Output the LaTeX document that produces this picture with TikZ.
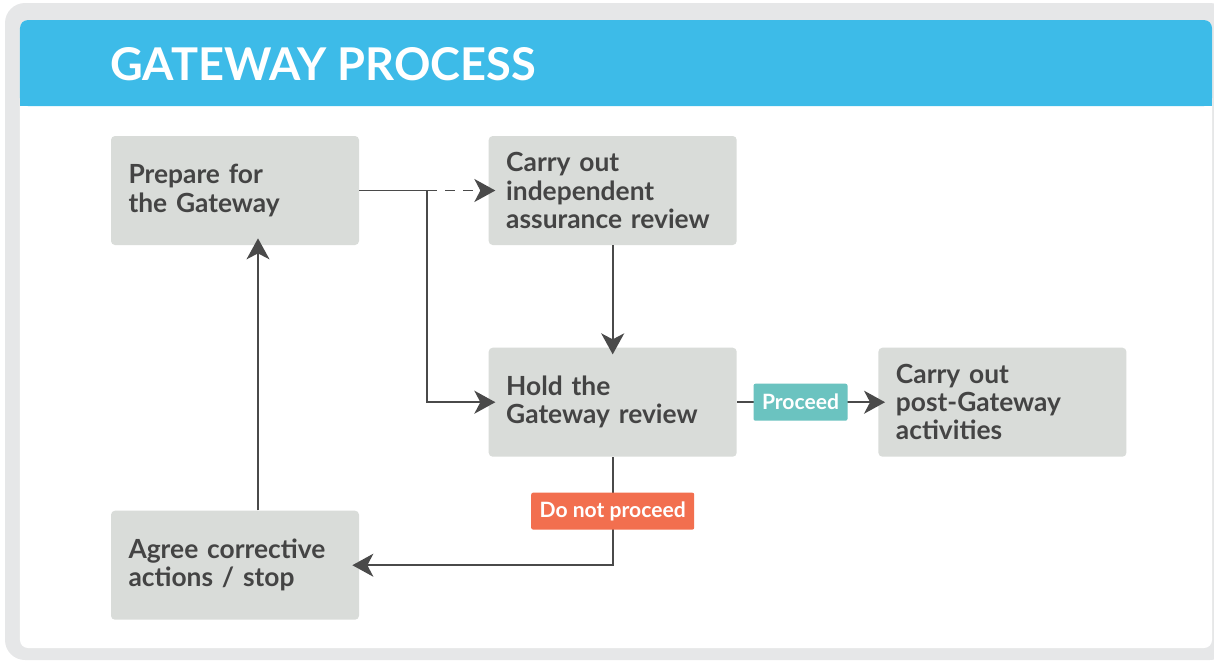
\documentclass[tikz,border=0pt]{standalone}
\usepackage{fontspec}
\setmainfont{Lato}
\usetikzlibrary{arrows.meta,calc,positioning}
\definecolor{framegray}{HTML}{E6E7E8}
\definecolor{hdrblue}{HTML}{3DBBE8}
\definecolor{boxgray}{HTML}{D9DCD9}
\definecolor{inkgray}{HTML}{444444}
\definecolor{lineclr}{HTML}{4A4A4A}
\definecolor{goteal}{HTML}{6BC3C0}
\definecolor{stoporange}{HTML}{F26F4F}
\tikzset{%
	block/.style    = {fill=boxgray, rounded corners=0.08cm, minimum width=4.96cm, minimum height=2.18cm,
	                   text width=4.26cm, inner xsep=0.35cm, align=left, text=inkgray,
	                   font=\bfseries\fontsize{15}{16}\selectfont}, % Step box
	tag/.style      = {rounded corners=0.04cm, text=white, minimum height=0.74cm, inner xsep=0.17cm,
	                   font=\bfseries\fontsize{12}{14}\selectfont}, % Decision label
	link/.style     = {draw=lineclr, line width=1pt, shorten >=-0.14cm}, % Connector
}
\begin{document}
\begin{tikzpicture}[>={Stealth[length=0.42cm,width=0.46cm,inset=0.12cm]}]
	\useasboundingbox (0,0) rectangle (24.28,-13.24);
	\clip (0,0) rectangle (24.28,-13.24);
	% frame and header
	\fill[framegray, rounded corners=0.4cm] (0.1,-0.06) rectangle (24.6,-13.2);
	\fill[white, rounded corners=0.16cm] (0.4,-0.4) rectangle (24.24,-12.96);
	\fill[hdrblue, rounded corners=0.16cm] (0.4,-0.4) rectangle (24.24,-2.12);
	\fill[hdrblue] (0.4,-1.2) rectangle (24.24,-2.12);
	\node[anchor=base west, inner sep=0, text=white, font=\bfseries\fontsize{25.7}{30}\selectfont] (title) at (2.2,-1.6) {GATEWAY PROCESS};
	
	\node [block] (prep) at (4.70,-3.81) {Prepare for\\the Gateway};
	\node [block] (indep) [right=2.58cm of prep] {Carry out\\independent\\assurance review};
	\node [block] (hold) [below=2.04cm of indep] {Hold the\\Gateway review};
	\node [block] (post) [right=2.82cm of hold] {Carry out\\post-Gateway\\activities};
	\node [block] (agree) [below=5.3cm of prep] {Agree corrective\\actions / stop};
	\coordinate (split) at ($(prep.east)+(1.36,0)$);
	
	\draw[link, shorten >=0pt] (prep) -- (split);
	\draw[link, ->, dash pattern=on 0.2cm off 0.16cm] (split) -- (indep);
	\draw[link, ->] (split) |- (hold);
	\draw[link, ->] (indep) -- (hold);
	\draw[link, ->] (hold) -- node[tag, fill=goteal, pos=0.45] (go) {Proceed} (post);
	\draw[link, ->] (hold) |- node[tag, fill=stoporange, pos=0.25] (nogo) {Do not proceed} (agree);
	\draw[link, ->] ([xshift=0.46cm]agree.north) -- ([xshift=0.46cm]prep.south);
\end{tikzpicture}
\end{document}
